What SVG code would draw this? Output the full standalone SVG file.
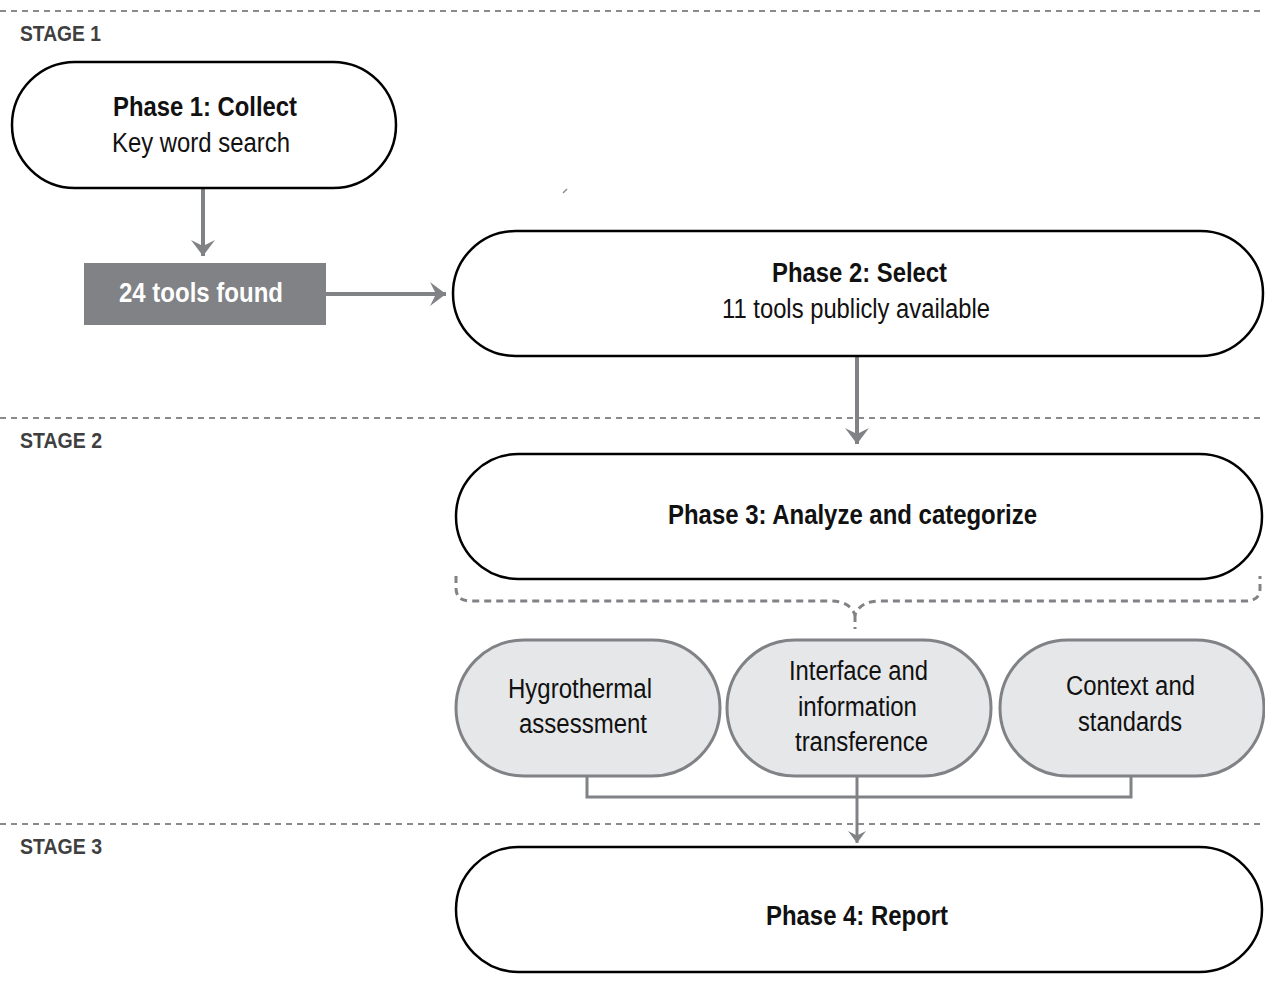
<svg xmlns="http://www.w3.org/2000/svg" width="1265" height="988" viewBox="0 0 1265 988">
<style>
.sep{stroke:#8a8a8c;stroke-width:2;stroke-dasharray:6 5;fill:none}
.brace{stroke:#808285;stroke-width:3;stroke-dasharray:7 5;fill:none}
.stage{font-family:"Liberation Sans",Arial,sans-serif;font-weight:bold;font-size:22px;fill:#3f3f3f}
.pill{fill:#fff;stroke:#000;stroke-width:2.5}
.sub{fill:#e6e7e8;stroke:#808285;stroke-width:3}
.t{font-family:"Liberation Sans",Arial,sans-serif;font-size:27px;fill:#111;text-anchor:middle}
.b{font-weight:bold}
.con{stroke:#808285;stroke-width:4;fill:none}
.thin{stroke:#808285;stroke-width:3;fill:none}
</style>
<defs>
<marker id="ah" markerWidth="6" markerHeight="6" refX="4" refY="3" orient="auto" markerUnits="strokeWidth"><path d="M0,0 L4,3 L0,6 L1.5,3 Z" fill="#808285"/></marker>
<marker id="ahs" markerWidth="6" markerHeight="6" refX="4" refY="3" orient="auto" markerUnits="strokeWidth"><path d="M0,0 L4,3 L0,6 L1.5,3 Z" fill="#808285"/></marker>
</defs>
<rect width="1265" height="988" fill="#fff"/>
<g id="separators">
<line class="sep" x1="0" y1="11" x2="1265" y2="11"/>
<line class="sep" x1="0" y1="418" x2="1265" y2="418"/>
<line class="sep" x1="0" y1="824" x2="1265" y2="824"/>
<text class="stage" x="20" y="41" textLength="81" lengthAdjust="spacingAndGlyphs">STAGE 1</text>
<text class="stage" x="20" y="448" textLength="82" lengthAdjust="spacingAndGlyphs">STAGE 2</text>
<text class="stage" x="20" y="854" textLength="82" lengthAdjust="spacingAndGlyphs">STAGE 3</text>
</g>
<g id="connectors">
<line class="con" x1="203" y1="188" x2="203" y2="256" marker-end="url(#ah)"/>
<line class="con" x1="326" y1="294" x2="446" y2="294" marker-end="url(#ah)"/>
<line class="con" x1="857" y1="356" x2="857" y2="444" marker-end="url(#ah)"/>
<path class="brace" d="M456,576 L456,588 Q456,601 470,601 L830,601 Q850,601 855,615 Q860,601 880,601 L1246,601 Q1260,601 1260,588 L1260,576"/>
<line class="brace" x1="855" y1="615" x2="855" y2="629"/>
<path class="thin" d="M587,776 L587,797 L1131,797 L1131,776"/>
<line class="thin" x1="857" y1="776" x2="857" y2="843" marker-end="url(#ahs)"/>
<line x1="563" y1="193" x2="567" y2="189" stroke="#8a8a8c" stroke-width="1.5"/>
</g>
<g id="phase1">
<rect class="pill" x="12" y="62" width="384" height="126" rx="63"/>
<text class="t b" x="205" y="116" textLength="184" lengthAdjust="spacingAndGlyphs">Phase 1: Collect</text>
<text class="t" x="201" y="152" textLength="178" lengthAdjust="spacingAndGlyphs">Key word search</text>
</g>
<g id="found">
<rect x="84" y="263" width="242" height="62" fill="#808285"/>
<text class="t b" x="201" y="302" style="fill:#fff" textLength="164" lengthAdjust="spacingAndGlyphs">24 tools found</text>
</g>
<g id="phase2">
<rect class="pill" x="453" y="231" width="810" height="125" rx="62.5"/>
<text class="t b" x="859.5" y="282" textLength="175" lengthAdjust="spacingAndGlyphs">Phase 2: Select</text>
<text class="t" x="856" y="318" textLength="268" lengthAdjust="spacingAndGlyphs">11 tools publicly available</text>
</g>
<g id="phase3">
<rect class="pill" x="456" y="454" width="806" height="125" rx="62.5"/>
<text class="t b" x="852.5" y="524" textLength="369" lengthAdjust="spacingAndGlyphs">Phase 3: Analyze and categorize</text>
</g>
<g id="hygro">
<rect class="sub" x="456" y="640" width="264" height="136" rx="68"/>
<text class="t" x="580" y="698" textLength="144" lengthAdjust="spacingAndGlyphs">Hygrothermal</text>
<text class="t" x="583" y="733" textLength="128" lengthAdjust="spacingAndGlyphs">assessment</text>
</g>
<g id="interface">
<rect class="sub" x="727" y="640" width="264" height="136" rx="68"/>
<text class="t" x="858.5" y="680" textLength="139" lengthAdjust="spacingAndGlyphs">Interface and</text>
<text class="t" x="857.5" y="716" textLength="119" lengthAdjust="spacingAndGlyphs">information</text>
<text class="t" x="861.5" y="751" textLength="133" lengthAdjust="spacingAndGlyphs">transference</text>
</g>
<g id="context">
<rect class="sub" x="1000" y="640" width="264" height="136" rx="68"/>
<text class="t" x="1130.5" y="695" textLength="129" lengthAdjust="spacingAndGlyphs">Context and</text>
<text class="t" x="1130" y="731" textLength="104" lengthAdjust="spacingAndGlyphs">standards</text>
</g>
<g id="phase4">
<rect class="pill" x="456" y="847" width="806" height="125" rx="62.5"/>
<text class="t b" x="857" y="925" textLength="182" lengthAdjust="spacingAndGlyphs">Phase 4: Report</text>
</g>
</svg>
